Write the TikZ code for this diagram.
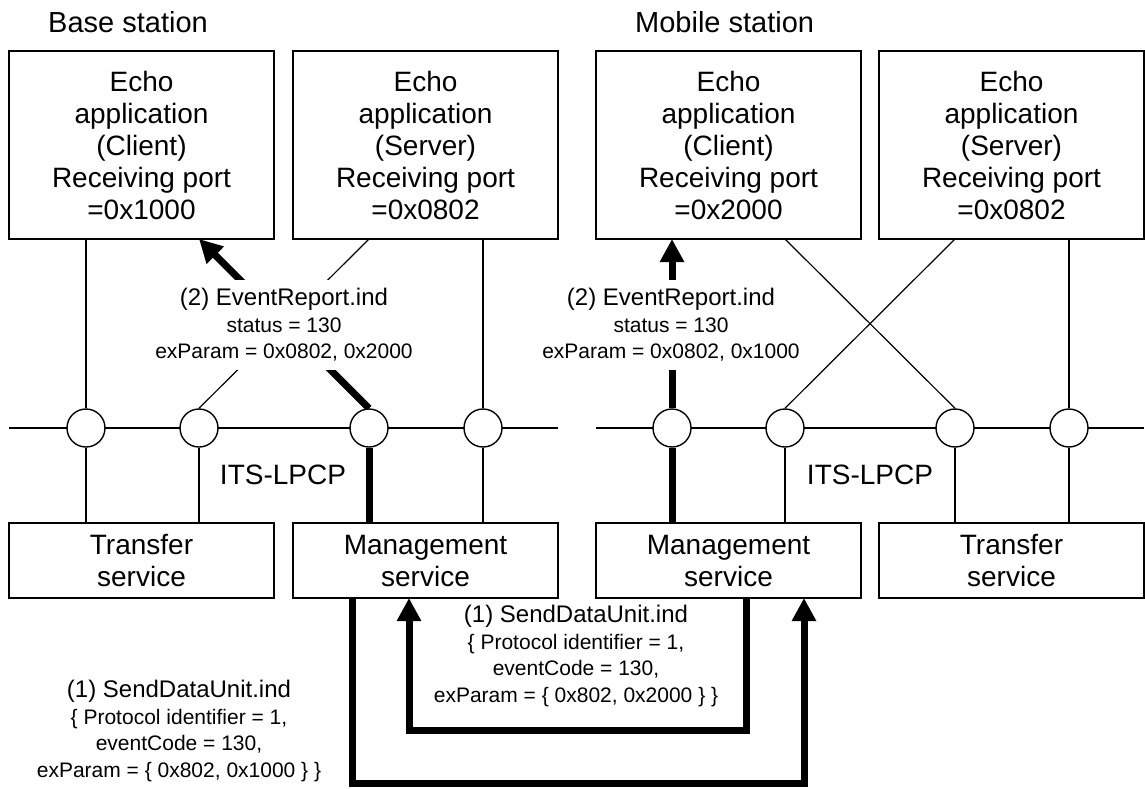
\documentclass[tikz,border=0pt]{standalone}
\usepackage{fontspec}
\setmainfont{Liberation Sans}
\usepackage{tikz}
\usetikzlibrary{arrows.meta, positioning, backgrounds}
\newcommand{\bigfont}{\fontsize{28}{32}\selectfont}
\newcommand{\stafont}{\fontsize{29}{32}\selectfont}
\newcommand{\midfont}{\fontsize{24}{28}\selectfont}
\newcommand{\smallfont}{\fontsize{21}{26.5}\selectfont}
\tikzset{
  appbox/.style={draw, line width=1.6pt, outer sep=0pt, minimum width=265pt, minimum height=188pt, align=center, font=\bigfont},
  svcbox/.style={draw, line width=1.6pt, outer sep=0pt, minimum width=265pt, minimum height=75pt, align=center, font=\bigfont},
  port/.style={circle, draw, fill=white, line width=1.4pt, minimum size=38pt, inner sep=0pt},
  link/.style={line width=1.2pt},
  flow/.style={line width=7pt},
  flowarrow/.style={flow, -{Triangle[length=23pt, width=23pt]}},
  msg/.style={align=center, font=\smallfont},
  stationlabel/.style={font=\stafont, anchor=base west, inner sep=0pt}
}

\begin{document}
\begin{tikzpicture}[x=1pt, y=-1pt]
    \useasboundingbox (0,0) rectangle (1145,789);
    \node (bsta) [stationlabel] at (48,33) {Base station};
    \node (msta) [stationlabel] at (635,33) {Mobile station};
    \node (bcli) [appbox] at (141.5,145) {Echo\\application\\(Client)\\Receiving port\\=0x1000};
    \node (bsrv) [appbox, right = 19pt of bcli] {Echo\\application\\(Server)\\Receiving port\\=0x0802};
    \node (mcli) [appbox, right = 38pt of bsrv] {Echo\\application\\(Client)\\Receiving port\\=0x2000};
    \node (msrv) [appbox, right = 18pt of mcli] {Echo\\application\\(Server)\\Receiving port\\=0x0802};
    \node (btr) [svcbox, below = 284pt of bcli] {Transfer\\service};
    \node (bmg) [svcbox, below = 284pt of bsrv] {Management\\service};
    \node (mmg) [svcbox, below = 284pt of mcli] {Management\\service};
    \node (mtr) [svcbox, below = 284pt of msrv] {Transfer\\service};
    \node (p1) [port] at (86,428) {};
    \node (p2) [port] at (199,428) {};
    \node (p3) [port] at (369,428) {};
    \node (p4) [port] at (483,428) {};
    \node (q1) [port] at (672,428) {};
    \node (q2) [port] at (785,428) {};
    \node (q3) [port] at (955,428) {};
    \node (q4) [port] at (1069,428) {};
    \node (blp) [font=\bigfont] at (283,475) {ITS-LPCP};
    \node (mlp) [font=\bigfont] at (870,475) {ITS-LPCP};
    \node (bev) [msg, fill=white, inner sep=8pt] at (284,325) {{\midfont (2) EventReport.ind}\\status = 130\\exParam = 0x0802, 0x2000};
    \node (mev) [msg, fill=white, inner sep=8pt] at (671,325) {{\midfont (2) EventReport.ind}\\status = 130\\exParam = 0x0802, 0x1000};
    \node (msend) [msg] at (576,656) {{\midfont (1) SendDataUnit.ind}\\\{ Protocol identifier = 1,\\eventCode = 130,\\exParam = \{ 0x802, 0x2000 \} \}};
    \node (bsend) [msg] at (179,731) {{\midfont (1) SendDataUnit.ind}\\\{ Protocol identifier = 1,\\eventCode = 130,\\exParam = \{ 0x802, 0x1000 \} \}};
    \begin{scope}[on background layer]
        \draw [link] (bcli.west |- p1) -- (bsrv.east |- p1);
        \draw [link] (mcli.west |- q1) -- (msrv.east |- q1);
        \path [link]
            (p1) edge (p1 |- bcli.south)
            (p1) edge (p1 |- btr.north)
            (p2) edge (p2 |- btr.north)
            (p3 |- bsrv.south) edge (p2.north)
            (p4) edge (p4 |- bsrv.south)
            (p4) edge (p4 |- bmg.north)
            (q2 |- mcli.south) edge (q3.north)
            (q3 |- msrv.south) edge (q2.north)
            (q4) edge (q4 |- msrv.south)
            (q2) edge (q2 |- mmg.north)
            (q3) edge (q3 |- mtr.north)
            (q4) edge (q4 |- mtr.north);
        \path [flow]
            (p3) edge (p3 |- bmg.north)
            (q1) edge (q1 |- mmg.north);
        \path [flowarrow]
            (p3.north) edge (p2 |- bcli.south)
            (q1) edge (q1 |- mcli.south);
        \draw [flowarrow] ([xshift=59pt]bmg.south west) -- ++(0,185) -| ([xshift=208pt]mmg.south west);
        \draw [flowarrow] ([xshift=150pt]mmg.south west) -- ++(0,132) -| ([xshift=116pt]bmg.south west);
    \end{scope}
\end{tikzpicture}
\end{document}
